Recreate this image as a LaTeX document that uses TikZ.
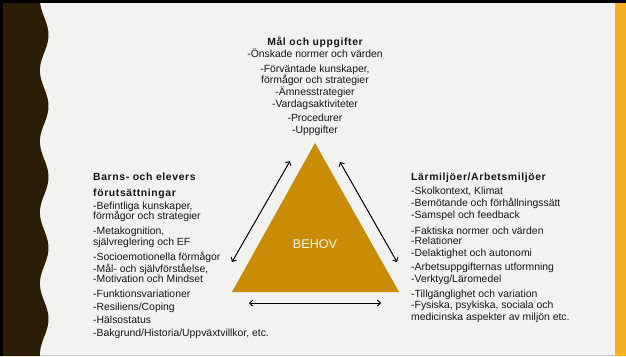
\documentclass[tikz,border=0pt]{standalone}
\usepackage{fontspec}
\setmainfont{Liberation Sans}
\newfontfamily\titlefont[LetterSpace=6]{Liberation Sans}
\usetikzlibrary{arrows.meta}
\definecolor{bg}{HTML}{F2F2F0}
\definecolor{bark}{HTML}{2B1D06}
\definecolor{behov}{HTML}{CB8C05}
\definecolor{edge}{HTML}{F5B023}
\definecolor{ink}{HTML}{151515}
\tikzset{
  txt/.style={anchor=base west, inner sep=0, text=ink, font=\fontsize{10.4}{12}\selectfont},
  ctxt/.style={txt, anchor=base},
  head/.style={txt, font=\fontsize{10.4}{12}\selectfont\titlefont\bfseries},
  chead/.style={head, anchor=base},
  dbl/.style={{Straight Barb[length=3pt,width=6pt]}-{Straight Barb[length=3pt,width=6pt]}, line width=1pt}
}
\begin{document}
\begin{tikzpicture}[x=1pt,y=-1pt]
% slide
\fill[bg] (0,0) rectangle (626,356);
\fill[edge] (615,0) rectangle (626,356);
\fill[bark] (0,0) -- plot[domain=0:356, samples=150, variable=\t] ({44.2+4.3*cos(5.07*(\t-35))},\t) -- (0,356) -- cycle;
\fill[black] (0,0) rectangle (3,356);
\fill[black] (0,0) rectangle (626,2.5);
\draw[gray!40, line width=1pt] (40,355) -- (615,355);

% triangle
\coordinate (apex) at (315,143);
\coordinate (bl) at (232,292);
\coordinate (br) at (399,292);
\fill[behov] (apex) -- (bl) -- (br) -- cycle;
\node[inner sep=0, text=white!94!behov, font=\fontsize{12.6}{14}\selectfont] (behov) at (315,244) {BEHOV};

% arrows
\coordinate (la) at (232,262);
\coordinate (lb) at (290,161);
\coordinate (ra) at (340,162);
\coordinate (rb) at (397,262);
\coordinate (ba) at (249,303);
\coordinate (bb) at (381,303);
\draw[dbl] (la) -- (lb);
\draw[dbl] (ra) -- (rb);
\draw[dbl] (ba) -- (bb);

% top
\node[chead] (t0) at (315,45.4) {Mål och uppgifter};
\node[ctxt] (t1) at (315,57) {-Önskade normer och värden};
\node[ctxt] (t2) at (315,72) {-Förväntade kunskaper,};
\node[ctxt] (t3) at (315,83.7) {förmågor och strategier};
\node[ctxt] (t4) at (315,95.4) {-Ämnesstrategier};
\node[ctxt] (t5) at (315,107.7) {-Vardagsaktiviteter};
\node[ctxt] (t6) at (315,121) {-Procedurer};
\node[ctxt] (t7) at (315,133.7) {-Uppgifter};

% left
\node[head] (l0) at (93,180.7) {Barns- och elevers};
\node[head] (l1) at (93,196.5) {förutsättningar};
\node[txt] (l2) at (93,209.5) {-Befintliga kunskaper,};
\node[txt] (l3) at (93,219.5) {förmågor och strategier};
\node[txt] (l4) at (93,234.5) {-Metakognition,};
\node[txt] (l5) at (93,245.5) {självreglering och EF};
\node[txt] (l6) at (93,260.5) {-Socioemotionella förmågor};
\node[txt] (l7) at (93,272.5) {-Mål- och självförståelse,};
\node[txt] (l8) at (93,282.5) {-Motivation och Mindset};
\node[txt] (l9) at (93,297.5) {-Funktionsvariationer};
\node[txt] (l10) at (93,310.5) {-Resiliens/Coping};
\node[txt] (l11) at (93,323.5) {-Hälsostatus};
\node[txt] (l12) at (93,336.5) {-Bakgrund/Historia/Uppväxtvillkor, etc.};

% right
\node[head] (r0) at (411,180.7) {Lärmiljöer/Arbetsmiljöer};
\node[txt] (r1) at (411,194.5) {-Skolkontext, Klimat};
\node[txt] (r2) at (411,206.5) {-Bemötande och förhållningssätt};
\node[txt] (r3) at (411,218.8) {-Samspel och feedback};
\node[txt] (r4) at (411,234.2) {-Faktiska normer och värden};
\node[txt] (r5) at (411,244.2) {-Relationer};
\node[txt] (r6) at (411,256.2) {-Delaktighet och autonomi};
\node[txt] (r7) at (411,270.8) {-Arbetsuppgifternas utformning};
\node[txt] (r8) at (411,282.2) {-Verktyg/Läromedel};
\node[txt] (r9) at (411,297.5) {-Tillgänglighet och variation};
\node[txt] (r10) at (411,308.5) {-Fysiska, psykiska, sociala och};
\node[txt] (r11) at (411,320.8) {medicinska aspekter av miljön etc.};
\end{tikzpicture}
\end{document}
